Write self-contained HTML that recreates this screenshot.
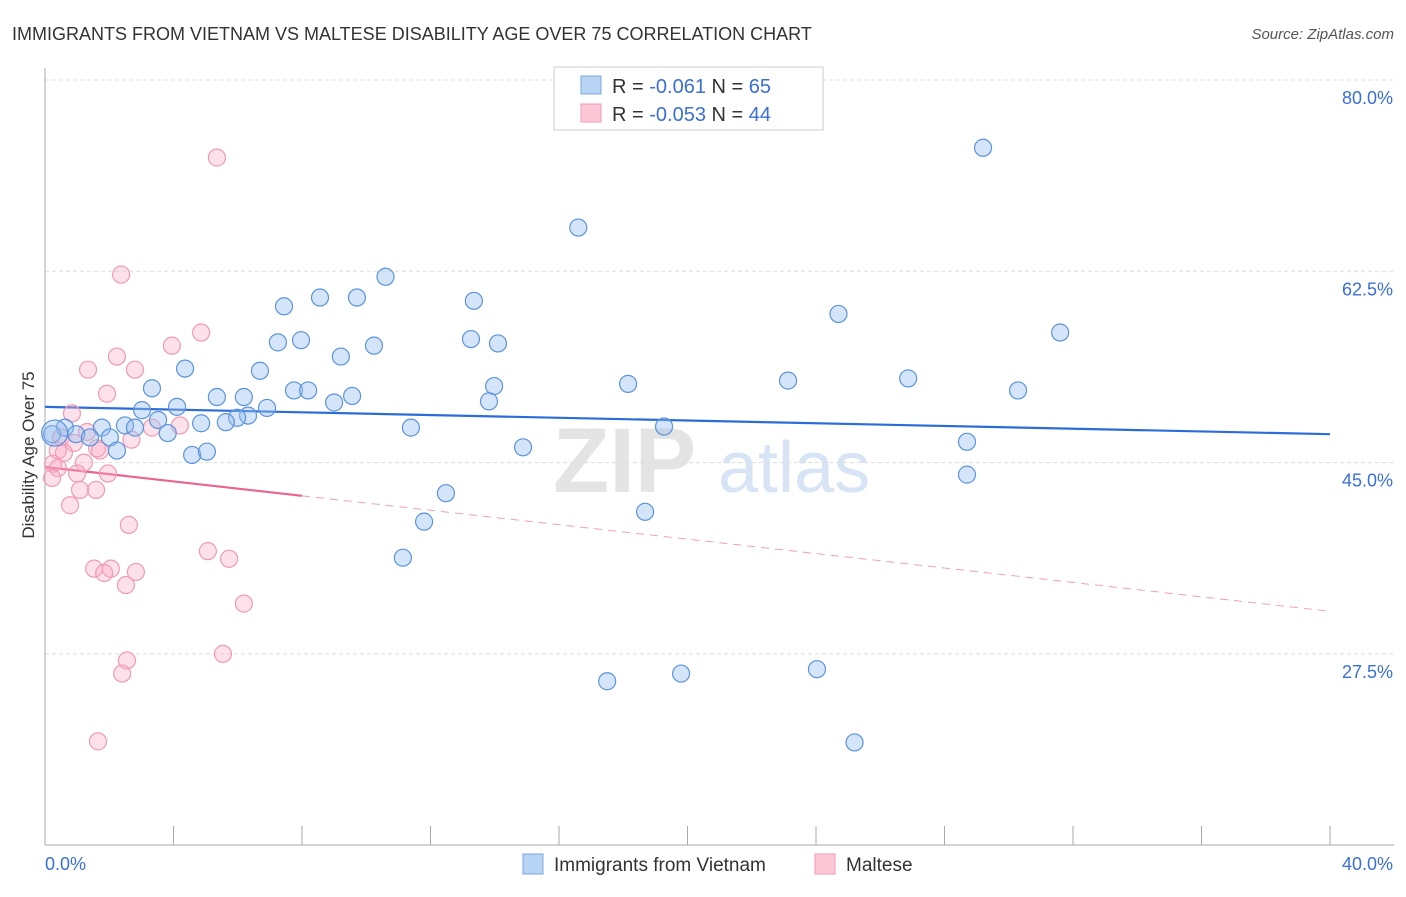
<!DOCTYPE html>
<html><head><meta charset="utf-8"><style>
body{margin:0;background:#fff;font-family:"Liberation Sans",sans-serif}
svg text{font-family:"Liberation Sans",sans-serif}
</style></head><body>
<svg id="chart" width="1406" height="892" viewBox="0 0 1406 892" xmlns="http://www.w3.org/2000/svg">
<text x="12" y="40" font-size="18" fill="#333">IMMIGRANTS FROM VIETNAM VS MALTESE DISABILITY AGE OVER 75 CORRELATION CHART</text>
<text x="1394" y="39" font-size="15" fill="#555" text-anchor="end" font-style="italic">Source: ZipAtlas.com</text>
<g>
<text x="553" y="492" font-size="92" fill="#e4e4e4" font-family="Liberation Serif" font-weight="bold">ZIP</text>
<text x="718" y="492" font-size="72" fill="#d6e4f5">atlas</text></g>
<g id="grid"></g><g id="axes"></g><g id="trend"></g><g id="pts"></g>
<text transform="translate(34,455) rotate(-90)" font-size="17" fill="#333" text-anchor="middle">Disability Age Over 75</text>
<g>
<rect x="554" y="67" width="269" height="63" fill="#fff" stroke="#ccc"/>
<rect x="581" y="76" width="20" height="18" fill="#b8d4f5" stroke="#7aa8e0"/>
<rect x="581" y="104" width="20" height="18" fill="#fcc8d8" stroke="#f09ab5"/>
<text x="612" y="93" font-size="20" fill="#333">R = <tspan fill="#3a6fd8">-0.061</tspan>   N = <tspan fill="#3a6fd8">65</tspan></text>
<text x="612" y="121" font-size="20" fill="#333">R = <tspan fill="#3a6fd8">-0.053</tspan>   N = <tspan fill="#3a6fd8">44</tspan></text>
</g>
<g>
<rect x="523" y="854" width="20" height="20" fill="#b8d4f5" stroke="#7aa8e0"/>
<text x="554" y="871" font-size="19" fill="#333">Immigrants from Vietnam</text>
<rect x="815" y="854" width="20" height="20" fill="#fcc8d8" stroke="#f09ab5"/>
<text x="846" y="871" font-size="19" fill="#333">Maltese</text>
</g>
</svg>
<script>
const yTicks=[80,62.5,45,27.5];
const xTickLabels=["0.0%","40.0%"];
const blueX=[29.2,16.6,10.6,8.56,9.71,7.44,13.35,24.7,31.6,7.25,7.97,13.26,14.1,10.24,9.21,4.36,6.69,3.33,7.75,8.19,13.98,18.15,23.13,26.87,30.29,5.35,6.19,9.56,9.0,13.82,4.11,3.02,6.91,6.32,5.98,5.63,4.86,3.52,2.49,2.8,1.77,0.62,0.22,0.97,1.4,2.02,3.82,11.39,19.27,28.7,14.88,2.24,4.58,5.04,28.7,12.48,18.68,11.8,11.14,17.5,19.8,24.03,25.2,0.3];
const blueY=[73.8,66.5,62.0,60.1,60.1,59.3,59.8,58.6,56.9,56.0,56.2,56.3,55.9,55.7,54.7,53.6,53.4,51.8,51.6,51.6,52.0,52.2,52.5,52.7,51.6,51.0,51.0,51.1,50.5,50.6,50.1,49.8,50.0,49.3,49.1,48.7,48.6,48.9,48.4,48.2,48.2,48.2,47.6,47.6,47.3,47.3,47.7,48.2,48.3,46.9,46.4,46.1,45.7,46.0,43.9,42.2,40.5,39.6,36.3,25.0,25.7,26.1,19.4,47.7];
const pinkX=[5.35,2.37,4.86,3.95,2.24,1.34,2.8,1.93,0.84,3.33,4.2,1.31,0.5,2.69,0.9,0.4,1.62,0.59,1.71,1.21,0.25,0.4,1.0,1.96,0.22,1.09,1.59,0.78,2.61,5.07,5.73,1.53,2.05,1.84,2.83,2.52,6.19,5.54,2.55,2.4,1.65];
const pinkY=[72.9,62.2,56.9,55.7,54.7,53.5,53.5,51.3,49.5,48.2,48.4,47.8,47.3,47.1,46.8,46.1,46.3,45.9,46.1,45.0,44.9,44.5,44.0,44.0,43.6,42.5,42.5,41.1,39.3,36.9,36.2,35.3,35.3,34.9,35.0,33.8,32.1,27.5,26.9,25.7,19.5];
const blueTrend=[50.1,47.6];
const pinkTrend=[44.6,31.4];
const NS="http://www.w3.org/2000/svg";
const X=v=>45+v/40*1285, Y=v=>80+(80-v)*191.3/17.5;
function mk(t,a,p){const e=document.createElementNS(NS,t);for(const k in a)e.setAttribute(k,a[k]);p.appendChild(e);return e;}
const g=document.getElementById('grid'),ax=document.getElementById('axes'),tr=document.getElementById('trend'),pts=document.getElementById('pts');
yTicks.forEach(v=>{
 const l=mk('line',{x1:45,x2:1394,y1:Y(v),y2:Y(v),stroke:'#ddd','stroke-dasharray':'4,3'},g);
 
 
 const t=mk('text',{x:1393,y:Y(v)+24,'font-size':18,fill:'#3a6fd8','text-anchor':'end'},g);t.textContent=v.toFixed(1)+'%';
 
 
});
const xa=mk('line',{x1:45,x2:1394,y1:845,y2:845,stroke:'#aaa'},ax);


const ya=mk('line',{x1:45,x2:45,y1:68,y2:845,stroke:'#aaa'},ax);


for(let i=0;i<=10;i++){const t=mk('line',{x1:X(i*4),x2:X(i*4),y1:826,y2:845,stroke:'#aaa'},ax);
 
 }
xTickLabels.forEach((s,i)=>{const t=mk('text',{x:i?1393:45,y:870,'font-size':18,fill:'#3a6fd8','text-anchor':i?'end':'start'},ax);t.textContent=s;
 
 });
const bt=mk('line',{x1:X(0),y1:Y(blueTrend[0]),x2:X(40),y2:Y(blueTrend[1]),stroke:'#2a6dd8','stroke-width':2.2},tr);


const pm=v=>pinkTrend[0]+(pinkTrend[1]-pinkTrend[0])*v/40;
const ps=mk('line',{x1:X(0),y1:Y(pm(0)),x2:X(8),y2:Y(pm(8)),stroke:'#e8638e','stroke-width':2.2},tr);


const pd=mk('line',{x1:X(8),y1:Y(pm(8)),x2:X(40),y2:Y(pm(40)),stroke:'#eea0b8','stroke-width':1,'stroke-dasharray':'8,6'},tr);


pinkX.forEach((v,i)=>{const c=mk('circle',{cx:X(v),cy:Y(pinkY[i]),r:8.5,fill:'rgba(248,170,195,0.35)',stroke:'#f09ab5','stroke-width':1.2},pts);
 
 });
blueX.forEach((v,i)=>{const c=mk('circle',{cx:X(v),cy:Y(blueY[i]),r:i==blueX.length-1?13:8.5,fill:'rgba(150,190,240,0.4)',stroke:'#5b93dd','stroke-width':1.2},pts);
 
 });
</script>
</body></html>
